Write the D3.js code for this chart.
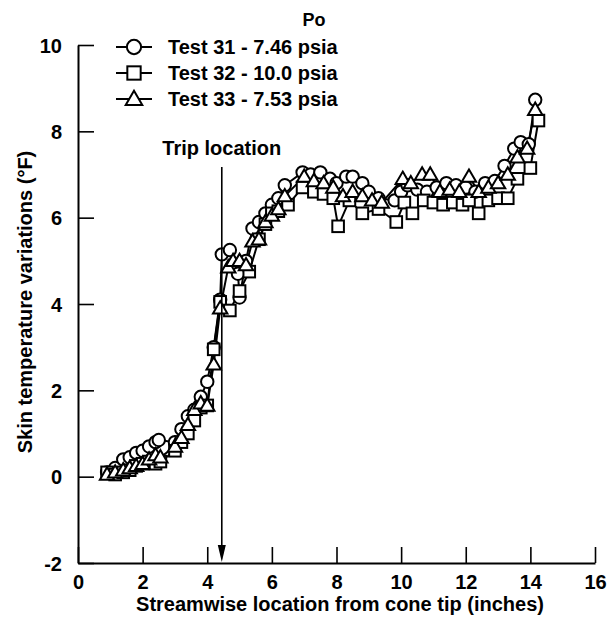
<!DOCTYPE html>
<html><head><meta charset="utf-8">
<script src="https://cdn.jsdelivr.net/npm/d3@7"></script>
<style>
body{margin:0;background:#fff;}
text{font-family:"Liberation Sans",Arial,sans-serif;font-weight:bold;fill:#000;}
</style></head>
<body><svg id="chart" width="608" height="631"></svg>
<script>
const xTicks = [0,2,4,6,8,10,12,14,16];
const yTicks = [-2,0,2,4,6,8,10];
const seriesNames = ["Test 31 - 7.46 psia","Test 32 - 10.0 psia","Test 33 - 7.53 psia"];
const seriesMarkers = ["circle","square","triangle"];
const legendTitle = "Po";
const xTitle = "Streamwise location from cone tip (inches)";
const yTitle = "Skin temperature variations (\u00B0F)";
const tripLabel = "Trip location";
const tripX = 4.45;

const test31 = [[0.9,0.1],[1.15,0.2],[1.4,0.4],[1.6,0.45],[1.8,0.55],[2.0,0.6],[2.2,0.7],[2.4,0.8],[2.5,0.85],[3.0,0.8],[3.2,1.1],[3.4,1.4],[3.6,1.55],[3.8,1.85],[4.0,2.2],[4.2,3.0],[4.4,4.1],[4.45,5.15],[4.7,5.25],[4.95,4.7],[5.0,4.15],[5.2,5.0],[5.4,5.75],[5.6,5.9],[5.8,6.1],[6.0,6.3],[6.2,6.45],[6.4,6.75],[6.95,7.05],[7.2,7.0],[7.5,7.05],[7.8,6.9],[8.0,6.8],[8.3,6.95],[8.5,6.95],[8.8,6.8],[9.0,6.6],[9.3,6.45],[9.8,6.4],[10.0,6.6],[10.2,6.75],[10.5,6.65],[10.8,6.6],[11.1,6.7],[11.4,6.8],[11.7,6.75],[12.0,6.7],[12.3,6.6],[12.6,6.8],[12.9,6.85],[13.2,7.2],[13.5,7.6],[13.7,7.75],[13.95,7.7],[14.15,8.73]];
const test32 = [[0.9,0.1],[1.15,0.05],[1.4,0.1],[1.6,0.15],[1.8,0.25],[2.0,0.3],[2.2,0.35],[2.4,0.3],[2.55,0.35],[3.0,0.6],[3.2,0.8],[3.4,1.0],[3.6,1.3],[3.8,1.6],[4.0,1.65],[4.2,2.95],[4.4,4.05],[4.7,3.85],[5.0,4.3],[5.3,4.75],[5.6,5.5],[5.8,5.85],[6.0,6.1],[6.2,6.15],[6.5,6.3],[6.95,6.7],[7.3,6.6],[7.6,6.55],[7.9,6.45],[8.05,5.8],[8.4,6.4],[8.8,6.1],[9.3,6.2],[9.85,5.9],[10.1,6.35],[10.35,6.1],[10.7,6.4],[11.0,6.35],[11.3,6.3],[11.6,6.35],[11.9,6.3],[12.1,6.4],[12.4,6.1],[12.7,6.4],[13.0,6.45],[13.3,6.45],[13.6,6.9],[14.0,7.15],[14.25,8.25]];
const test33 = [[0.9,0.05],[1.15,0.1],[1.4,0.15],[1.6,0.2],[1.8,0.25],[2.0,0.3],[2.2,0.4],[2.4,0.5],[2.55,0.45],[3.0,0.7],[3.2,0.9],[3.4,1.2],[3.6,1.55],[3.8,1.7],[4.0,1.65],[4.2,2.6],[4.4,3.9],[4.65,4.85],[4.8,5.0],[5.0,5.0],[5.2,4.9],[5.4,5.45],[5.6,5.5],[5.8,5.9],[6.0,6.05],[6.2,6.2],[6.4,6.5],[7.0,6.95],[7.3,6.85],[7.6,6.8],[7.9,6.7],[8.2,6.5],[8.5,6.6],[8.8,6.5],[9.1,6.4],[9.4,6.35],[10.05,6.9],[10.3,6.8],[10.65,7.0],[10.9,7.0],[11.2,6.6],[11.5,6.65],[11.8,6.6],[12.1,6.95],[12.4,6.6],[12.7,6.7],[13.0,6.8],[13.3,7.0],[13.6,7.4],[13.9,7.6],[14.15,8.5]];
const allSeries = [test31,test32,test33];

const svg = d3.select("#chart");
const pLeft=78, pRight=595, pTop=45, pBottom=563;
const x = d3.scaleLinear().domain([0,16]).range([pLeft,pRight]);
const y = d3.scaleLinear().domain([-2,10]).range([pBottom,pTop]);

// axes
const fmt = d => String(d);
const xAxis = svg.append("g").attr("transform",`translate(0,${pBottom})`)
  .call(d3.axisBottom(x).tickValues(xTicks).tickFormat(fmt).tickSize(-16).tickPadding(12).tickSizeOuter(0));
const yAxis = svg.append("g").attr("transform",`translate(${pLeft},0)`)
  .call(d3.axisLeft(y).tickValues(yTicks).tickFormat(fmt).tickSize(-16).tickPadding(16).tickSizeOuter(0));
[xAxis,yAxis].forEach(a=>{
  a.select(".domain").attr("stroke","#000").attr("stroke-width",2);
  a.selectAll(".tick line").attr("stroke","#000").attr("stroke-width",1.6);
  a.selectAll(".tick text").style("font-size","20px").style("font-family","'Liberation Sans',Arial,sans-serif").style("font-weight","bold").attr("fill","#000");
});
yAxis.selectAll(".tick text").attr("dy","0.35em");

// axis titles
svg.append("text").attr("x",340).attr("y",611).attr("text-anchor","middle").style("font-size","20px").text(xTitle);
svg.append("text").attr("transform","translate(32,302) rotate(-90)").attr("text-anchor","middle").style("font-size","20px").text(yTitle);

// marker drawing
function drawMarker(g, type, cx, cy, k){
  k = k || 1;
  if(type==="circle"){
    g.append("circle").attr("cx",cx).attr("cy",cy).attr("r",6.2*k).attr("fill","#fff").attr("stroke","#000").attr("stroke-width",2);
  } else if(type==="square"){
    g.append("rect").attr("x",cx-5.8*k).attr("y",cy-5.8*k).attr("width",11.6*k).attr("height",11.6*k).attr("fill","#fff").attr("stroke","#000").attr("stroke-width",2);
  } else {
    const s=7.2*k;
    g.append("path").attr("d",`M${cx},${cy-s}L${cx+s},${cy+s*0.72}L${cx-s},${cy+s*0.72}Z`).attr("fill","#fff").attr("stroke","#000").attr("stroke-width",2);
  }
}

const line = d3.line().x(d=>x(d[0])).y(d=>y(d[1]));
const plot = svg.append("g");
allSeries.forEach((s,i)=>{
  plot.append("path").datum(s).attr("d",line).attr("fill","none").attr("stroke","#000").attr("stroke-width",2);
});
allSeries.forEach((s,i)=>{
  const g = plot.append("g");
  s.forEach(d=>drawMarker(g, seriesMarkers[i], x(d[0]), y(d[1])));
});

// trip arrow
svg.append("line").attr("x1",x(tripX)).attr("x2",x(tripX)).attr("y1",167).attr("y2",pBottom-14).attr("stroke","#000").attr("stroke-width",1.6);
svg.append("path").attr("d",`M${x(tripX)-4},${pBottom-18}L${x(tripX)+4},${pBottom-18}L${x(tripX)},${pBottom-1}Z`).attr("fill","#000");
svg.append("text").attr("x",x(tripX)).attr("y",155).attr("text-anchor","middle").style("font-size","20px").text(tripLabel);

// legend
svg.append("text").attr("x",314).attr("y",26).attr("text-anchor","middle").style("font-size","18px").text(legendTitle);
seriesNames.forEach((n,i)=>{
  const cy = 47 + i*26;
  svg.append("line").attr("x1",116).attr("x2",152).attr("y1",cy).attr("y2",cy).attr("stroke","#000").attr("stroke-width",2);
  drawMarker(svg, seriesMarkers[i], 134, cy, 1.15);
  svg.append("text").attr("x",168).attr("y",cy+7).style("font-size","20px").text(n);
});
</script></body></html>
